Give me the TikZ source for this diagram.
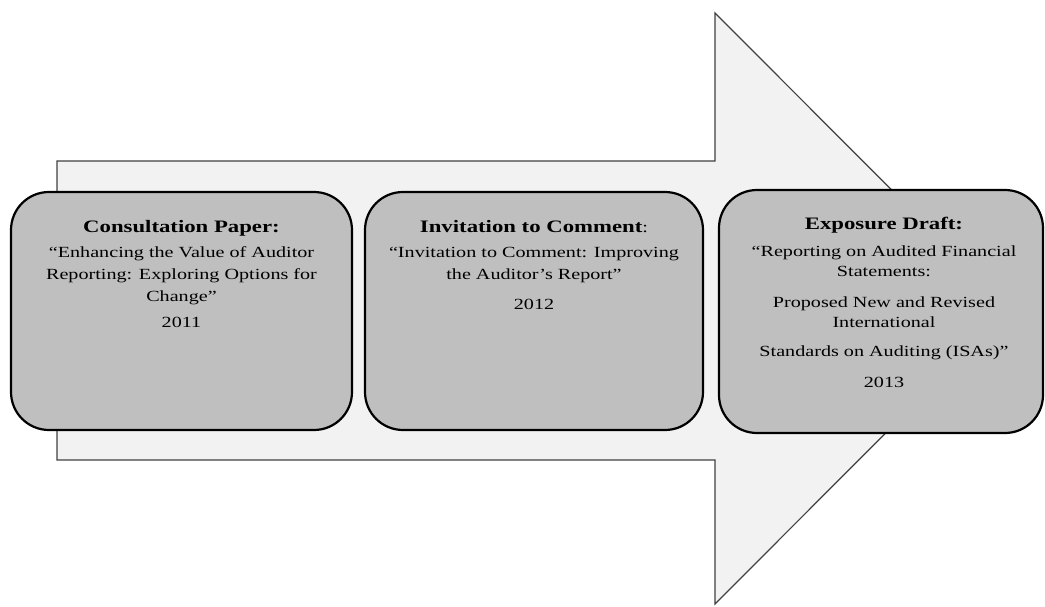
\documentclass[tikz,border=0pt]{standalone}
\usepackage{fontspec}
\setmainfont{Liberation Serif}[FakeStretch=1.3]
\begin{document}
\begin{tikzpicture}[x=1pt,y=1pt,
  arrowshape/.style={draw=black!75,fill=black!5,line width=1.2pt,line join=miter},
  stagebox/.style={draw=black,fill=black!25,line width=2.2pt,rounded corners=38pt},
  stagetext/.style={anchor=north,align=center,inner sep=0pt,
    font=\fontsize{15.5}{22}\selectfont}]
\useasboundingbox (0,0) rectangle (1045,606);
% big arrow
\path[arrowshape] (57,445) -- (715,445) -- (715,593) -- (1010,297.5)
  -- (715,2) -- (715,146) -- (57,146) -- cycle;
% boxes
\node[stagebox,minimum width=341pt,minimum height=238pt] (b1) at (181.5,295) {};
\node[stagebox,minimum width=338pt,minimum height=238pt] (b2) at (534,295) {};
\node[stagebox,minimum width=324pt,minimum height=243pt] (b3) at (881,294.5) {};
% texts
\node[stagetext] (t1) at (181.5,386)
 {{\fontsize{17.5}{22}\selectfont\bfseries Consultation Paper:}\\[3pt]
  ``Enhancing the Value of Auditor\\
  Reporting: Exploring Options for\\
  Change''\\[4pt]
  2011};
\node[stagetext] (t2) at (534,386)
 {{\fontsize{17.5}{22}\selectfont\bfseries Invitation to Comment}:\\[3pt]
  ``Invitation to Comment: Improving\\
  the Auditor's Report''\\[8pt]
  2012};
\node[stagetext] (t3) at (884,389)
 {{\fontsize{17.5}{22}\selectfont\bfseries Exposure Draft:}\\[5pt]
  ``Reporting on Audited Financial\\[-2pt]
  Statements:\\[9pt]
  Proposed New and Revised\\[-2pt]
  International\\[7pt]
  Standards on Auditing (ISAs)''\\[9pt]
  2013};
\end{tikzpicture}
\end{document}
